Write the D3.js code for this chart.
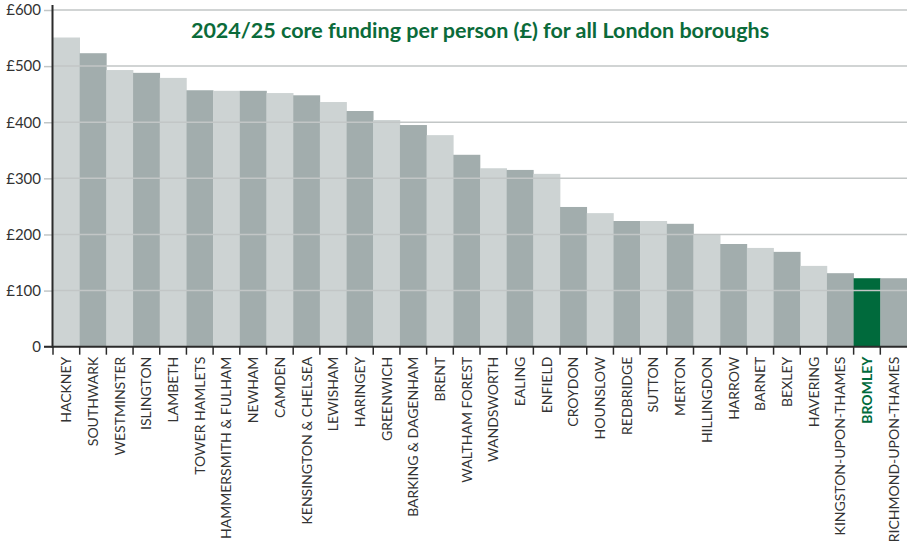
<!DOCTYPE html>
<html>
<head>
<meta charset="utf-8">
<script src="https://cdn.jsdelivr.net/npm/d3@7"></script>
<style>
  body { margin: 0; background: #fff; }
  text { font-family: Lato, "DejaVu Sans", sans-serif; }
</style>
</head>
<body>
<div id="container"></div>
<script>
/* CONSTANTS AND GLOBALS */
const width = 907;
const height = 545;
const margin = {top: 10, bottom: 198, left: 53, right: 0};

/* DATA */
const boroughs = ["HACKNEY", "SOUTHWARK", "WESTMINSTER", "ISLINGTON", "LAMBETH", "TOWER HAMLETS",
  "HAMMERSMITH & FULHAM", "NEWHAM", "CAMDEN", "KENSINGTON & CHELSEA", "LEWISHAM", "HARINGEY",
  "GREENWICH", "BARKING & DAGENHAM", "BRENT", "WALTHAM FOREST", "WANDSWORTH", "EALING", "ENFIELD",
  "CROYDON", "HOUNSLOW", "REDBRIDGE", "SUTTON", "MERTON", "HILLINGDON", "HARROW", "BARNET",
  "BEXLEY", "HAVERING", "KINGSTON-UPON-THAMES", "BROMLEY", "RICHMOND-UPON-THAMES"];
const funding = [551, 523, 493, 488, 479, 457, 456, 456, 452, 448, 436, 420, 404, 395, 377, 342,
  318, 315, 308, 249, 238, 224, 224, 219, 199, 183, 176, 169, 144, 131, 122, 122];
const yTicks = [0, 100, 200, 300, 400, 500, 600];
const highlight = "BROMLEY";
const title = "2024/25 core funding per person (£) for all London boroughs";

/* SCALES */
const xScale = d3.scaleBand()
  .domain(boroughs)
  .range([margin.left, width - margin.right])
  .padding(0)

const yScale = d3.scaleLinear()
  .domain([0, 600])
  .range([height - margin.bottom - 0.3, margin.top])

const colorOf = (d, i) => d === highlight ? "#006a3c" : (i % 2 === 0 ? "#cdd3d3" : "#a2adad");

/* HTML ELEMENTS */
const svg = d3.select("#container")
  .append("svg")
  .attr("width", width)
  .attr("height", height)

// Bars
svg.append("g")
  .selectAll("rect")
  .data(boroughs)
  .join("rect")
    .attr("x", d => xScale(d))
    .attr("width", xScale.bandwidth() + 0.3)
    .attr("y", (d, i) => yScale(funding[i]))
    .attr("height", (d, i) => yScale(0) - yScale(funding[i]))
    .attr("fill", colorOf)

// Gridlines over bars
svg.append("g")
  .selectAll("line")
  .data(yTicks.filter(t => t > 0))
  .join("line")
    .attr("x1", margin.left)
    .attr("x2", width)
    .attr("y1", d => yScale(d))
    .attr("y2", d => yScale(d))
    .attr("stroke", "#c2c6c6")
    .attr("stroke-width", 1.5)

// Y axis
const yAxis = d3.axisLeft(yScale)
  .tickValues(yTicks)
  .tickSize(9)
  .tickPadding(3)
  .tickFormat(d => d === 0 ? "0" : "£" + d)

svg.append("g")
  .attr("transform", `translate(${margin.left}, 0)`)
  .call(yAxis)
  .call(g => g.select(".domain").remove())
  .call(g => g.selectAll("line").attr("stroke", "#c2c6c6").attr("stroke-width", 1.5))
  .call(g => g.selectAll("text")
    .attr("fill", "#333")
    .style("font-size", "15px"))

svg.append("line")
  .attr("x1", margin.left - 0.5).attr("x2", margin.left - 0.5)
  .attr("y1", 5).attr("y2", yScale(0) + 1)
  .attr("stroke", "#2b2b2b")
  .attr("stroke-width", 2)

// X axis with ticks at band boundaries
const xg = svg.append("g")
  .attr("transform", `translate(0, ${yScale(0)})`)

xg.append("line")
  .attr("x1", margin.left - 9).attr("x2", width)
  .attr("stroke", "#2b2b2b")
  .attr("stroke-width", 2)

xg.selectAll(".xtick")
  .data(boroughs)
  .join("line")
    .attr("class", "xtick")
    .attr("x1", d => xScale(d))
    .attr("x2", d => xScale(d))
    .attr("y1", 0)
    .attr("y2", 8)
    .attr("stroke", "#2b2b2b")
    .attr("stroke-width", 1.5)

xg.selectAll(".xlabel")
  .data(boroughs)
  .join("text")
    .attr("class", "xlabel")
    .attr("transform", d => `translate(${xScale(d) + xScale.bandwidth() / 2 + 5}, 10) rotate(-90)`)
    .attr("text-anchor", "end")
    .attr("fill", d => d === highlight ? "#006a3c" : "#333")
    .style("font-weight", d => d === highlight ? "bold" : "normal")
    .style("font-size", "14px")
    .text(d => d)

// Title
svg.append("text")
  .attr("x", 480)
  .attr("y", 38)
  .attr("text-anchor", "middle")
  .attr("fill", "#0b6b3a")
  .style("font-size", "21.5px")
  .style("font-weight", "bold")
  .text(title)
</script>
</body>
</html>
